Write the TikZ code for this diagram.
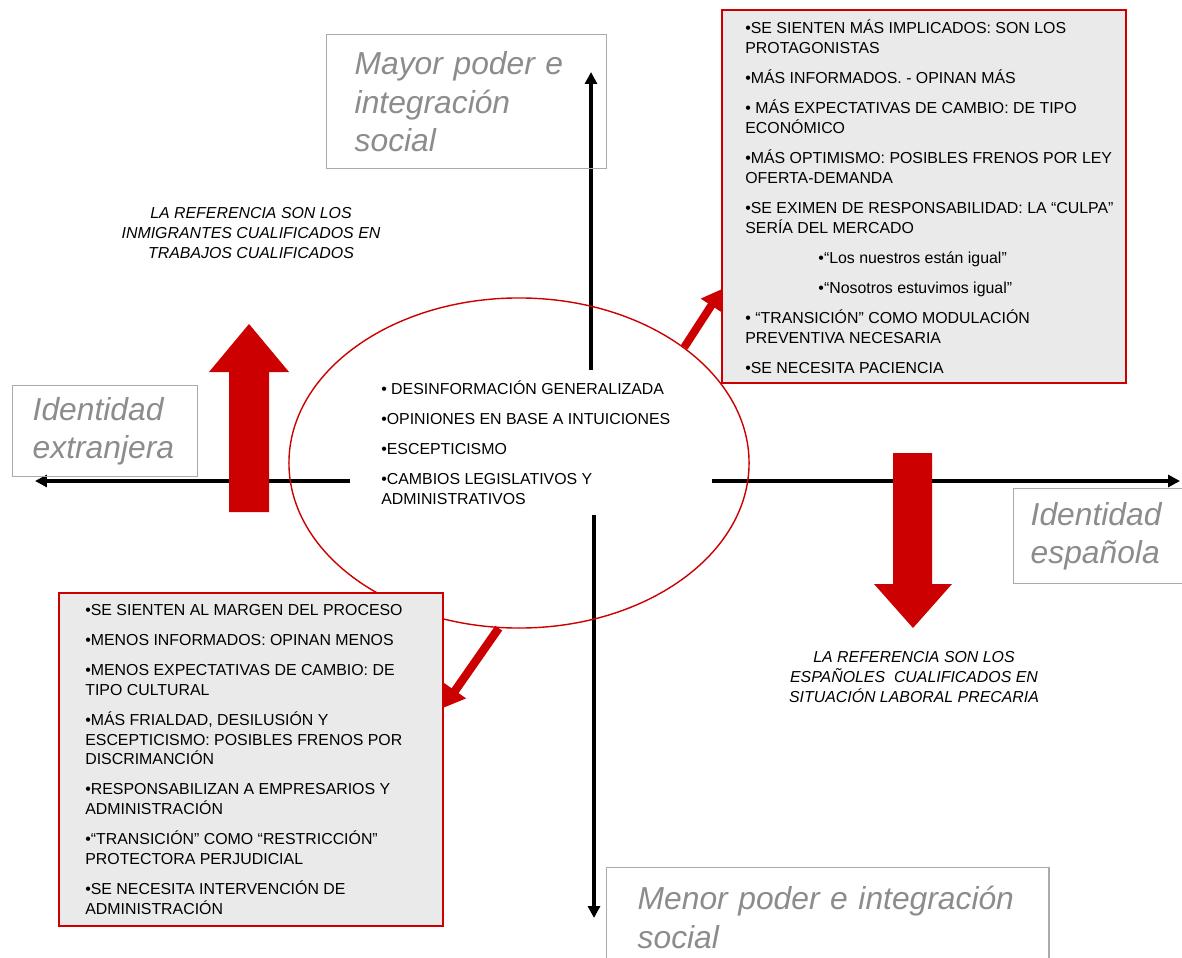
\documentclass[tikz,border=0pt]{standalone}
\usepackage{fontspec}
\setmainfont{Liberation Sans}
\usetikzlibrary{shapes.geometric,arrows.meta}

\definecolor{rojo}{RGB}{204,0,0}
\definecolor{grisfondo}{RGB}{234,234,234}
\definecolor{grisborde}{RGB}{170,170,170}
\definecolor{gristexto}{RGB}{140,140,140}

\begin{document}
\begin{tikzpicture}[x=0.025cm, y=-0.025cm,
	eje/.style={line width=2.8pt, -{Triangle[width=8.5pt,length=8.5pt]}},
	flecha/.style={rojo, line width=6pt, -{Triangle[width=18pt,length=15pt]}},
	caja/.style={draw=rojo, line width=1.3pt, fill=grisfondo, inner sep=0pt},
	lista/.style={align=left, inner sep=0pt, anchor=west, font=\fontsize{11.3pt}{14.2pt}\selectfont},
	nota/.style={align=center, inner sep=0pt, font=\fontsize{11.3pt}{14.2pt}\selectfont\itshape},
	etiqueta/.style={draw=grisborde, line width=1pt, text=gristexto, align=left, anchor=north west,
		inner ysep=0pt, font=\fontsize{22.6pt}{27.6pt}\selectfont\itshape}]
	\useasboundingbox (0,0) rectangle (1182,958);
	\clip (0,0) rectangle (1182,958);

	% ejes
	\coordinate (ejeN) at (591,72);   \coordinate (ejeNc) at (591,370);
	\coordinate (ejeS) at (594,918);  \coordinate (ejeSc) at (594,515);
	\coordinate (ejeO) at (35,481);   \coordinate (ejeOc) at (350,481);
	\coordinate (ejeE) at (1180,481); \coordinate (ejeEc) at (712,481);
	\draw[eje] (ejeNc) -- (ejeN);
	\draw[eje] (ejeSc) -- (ejeS);
	\draw[eje] (ejeOc) -- (ejeO);
	\draw[eje] (ejeEc) -- (ejeE);

	\node[etiqueta, text width=5.6cm, inner xsep=0.7cm, minimum height=3.35cm] (mayor) at (326,34)
		{Mayor poder e\\integración\\social};
	\node[etiqueta, text width=3.625cm, inner xsep=0.5cm, minimum height=2.275cm] (extranjera) at (12,385)
		{Identidad\\extranjera};
	\node[etiqueta, text width=3.375cm, inner xsep=0.425cm, minimum height=2.375cm] (espanola) at (1013,488)
		{Identidad\\española};
	\node[etiqueta, text width=9.5cm, inner xsep=0.775cm, minimum height=2.5cm] (menor) at (606,867)
		{Menor poder e integración\\social};

	\node[nota] (notaextranjera) at (251,233)
		{LA REFERENCIA SON LOS\\INMIGRANTES CUALIFICADOS EN\\TRABAJOS CUALIFICADOS};
	\node[nota] (notaespanola) at (914,677)
		{LA REFERENCIA SON LOS\\ESPAÑOLES\ \ CUALIFICADOS EN\\SITUACIÓN LABORAL PRECARIA};

	% elipse central
	\node[ellipse, draw=rojo, line width=1pt, minimum width=11.5cm, minimum height=8.25cm, inner sep=0pt] (centro) at (519,463) {};
	\node[lista] (centrotexto) at (381,443)
		{• DESINFORMACIÓN GENERALIZADA\\[7.1pt]
		•OPINIONES EN BASE A INTUICIONES\\[7.1pt]
		•ESCEPTICISMO\\[7.1pt]
		•CAMBIOS LEGISLATIVOS Y\\
		ADMINISTRATIVOS};

	% flechas grandes
	\fill[rojo] (229,512) -- (269,512) -- (269,372) -- (289,372) -- (249,324) -- (209,372) -- (229,372) -- cycle;
	\fill[rojo] (893,453) -- (932,453) -- (932,584) -- (952,584) -- (913,628) -- (874,584) -- (893,584) -- cycle;

	% cajas
	\node[caja, minimum width=10.1cm, minimum height=9.325cm] (masbox) at (924,196.5) {};
	\node[lista] (mastexto) at ([xshift=0.6cm]masbox.west)
		{•SE SIENTEN MÁS IMPLICADOS: SON LOS\\
		PROTAGONISTAS\\[7.1pt]
		•MÁS INFORMADOS. - OPINAN MÁS\\[7.1pt]
		• MÁS EXPECTATIVAS DE CAMBIO: DE TIPO\\
		ECONÓMICO\\[7.1pt]
		•MÁS OPTIMISMO: POSIBLES FRENOS POR LEY\\
		OFERTA-DEMANDA\\[7.1pt]
		•SE EXIMEN DE RESPONSABILIDAD: LA “CULPA”\\
		SERÍA DEL MERCADO\\[7.1pt]
		\hspace*{52pt}•“Los nuestros están igual”\\[7.1pt]
		\hspace*{52pt}•“Nosotros estuvimos igual”\\[7.1pt]
		• “TRANSICIÓN” COMO MODULACIÓN\\
		PREVENTIVA NECESARIA\\[7.1pt]
		•SE NECESITA PACIENCIA};

	\node[caja, minimum width=9.6cm, minimum height=8.325cm] (menosbox) at (251,759.5) {};
	\node[lista] (menostexto) at ([xshift=0.675cm]menosbox.west)
		{•SE SIENTEN AL MARGEN DEL PROCESO\\[7.1pt]
		•MENOS INFORMADOS: OPINAN MENOS\\[7.1pt]
		•MENOS EXPECTATIVAS DE CAMBIO: DE\\
		TIPO CULTURAL\\[7.1pt]
		•MÁS FRIALDAD, DESILUSIÓN Y\\
		ESCEPTICISMO: POSIBLES FRENOS POR\\
		DISCRIMANCIÓN\\[7.1pt]
		•RESPONSABILIZAN A EMPRESARIOS Y\\
		ADMINISTRACIÓN\\[7.1pt]
		•“TRANSICIÓN” COMO “RESTRICCIÓN”\\
		PROTECTORA PERJUDICIAL\\[7.1pt]
		•SE NECESITA INTERVENCIÓN DE\\
		ADMINISTRACIÓN};

	% flechas pequenas
	\coordinate (mastip) at (722,289);
	\coordinate (menostip) at (443,708);
	\draw[flecha, line width=5.7pt, -{Triangle[width=17pt,length=14pt]}] (centro.35) -- (mastip);
	\draw[flecha] (centro.263) -- (menostip);
\end{tikzpicture}
\end{document}
